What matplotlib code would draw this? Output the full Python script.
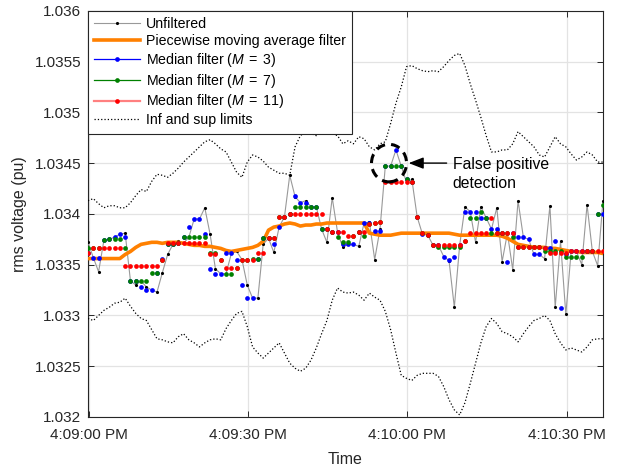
import numpy as np
import matplotlib
matplotlib.use("Agg")
import matplotlib.pyplot as plt
import matplotlib.dates as mdates
from matplotlib.lines import Line2D
from matplotlib.patches import Ellipse
from matplotlib.ticker import FuncFormatter

plt.rcParams['font.family'] = ['Liberation Sans', 'DejaVu Sans']
plt.rcParams['mathtext.fontset'] = 'custom'
plt.rcParams['mathtext.it'] = 'Liberation Sans:italic'
plt.rcParams['mathtext.rm'] = 'Liberation Sans'

# one sample per second
t_start = np.datetime64('2018-01-01T16:08:59.850')
n = 98
t = t_start + np.arange(n) * np.timedelta64(1000, 'ms')

unfiltered = [1.03372, 1.03357, 1.03343, 1.03374, 1.03375, 1.03377, 1.03380, 1.03381, 1.03334, 1.03330,
              1.03334, 1.03328, 1.03325, 1.03323, 1.03342, 1.03360, 1.03370, 1.03373, 1.03371, 1.03377,
              1.03395, 1.03395, 1.03406, 1.03380, 1.03346, 1.03341, 1.03341, 1.03361, 1.03363, 1.03355,
              1.03330, 1.03317, 1.03317, 1.03370, 1.03376, 1.03362, 1.03387, 1.03397, 1.03438, 1.03417,
              1.03411, 1.03413, 1.03407, 1.03407, 1.03385, 1.03372, 1.03416, 1.03382, 1.03367, 1.03370,
              1.03370, 1.03368, 1.03391, 1.03392, 1.03355, 1.03385, 1.03447, 1.03447, 1.03463, 1.03447,
              1.03431, 1.03434, 1.03397, 1.03380, 1.03379, 1.03369, 1.03369, 1.03358, 1.03354, 1.03308,
              1.03369, 1.03407, 1.03402, 1.03372, 1.03407, 1.03396, 1.03385, 1.03406, 1.03353, 1.03381,
              1.03345, 1.03413, 1.03377, 1.03375, 1.03360, 1.03360, 1.03356, 1.03408, 1.03308, 1.03373,
              1.03301, 1.03363, 1.03363, 1.03350, 1.03409, 1.03363, 1.03349, 1.03413]

moving_avg = [1.03356, 1.03356, 1.03356, 1.03356, 1.03356, 1.03356, 1.03356, 1.03360, 1.03363, 1.03367,
              1.03370, 1.03371, 1.03372, 1.03372, 1.03371, 1.03372, 1.03372, 1.03372, 1.03371, 1.03370,
              1.03369, 1.03369, 1.03368, 1.03368, 1.03367, 1.03366, 1.03364, 1.03363, 1.03364, 1.03365,
              1.03366, 1.03367, 1.03369, 1.03373, 1.03384, 1.03387, 1.03388, 1.03390, 1.03391, 1.03390,
              1.03388, 1.03389, 1.03389, 1.03390, 1.03390, 1.03391, 1.03391, 1.03391, 1.03391, 1.03391,
              1.03391, 1.03391, 1.03391, 1.03381, 1.03380, 1.03379, 1.03379, 1.03379, 1.03380, 1.03381,
              1.03381, 1.03381, 1.03381, 1.03381, 1.03381, 1.03381, 1.03381, 1.03381, 1.03381, 1.03380,
              1.03379, 1.03379, 1.03379, 1.03379, 1.03379, 1.03379, 1.03379, 1.03379, 1.03378, 1.03376,
              1.03373, 1.03370, 1.03369, 1.03368, 1.03367, 1.03367, 1.03367, 1.03366, 1.03366, 1.03365,
              1.03364, 1.03363, 1.03363, 1.03362, 1.03362, 1.03362, 1.03362, 1.03361]

median_3 = [1.03361, 1.03357, 1.03357, 1.03374, 1.03375, 1.03377, 1.03380, 1.03377, 1.03334, 1.03334,
            1.03328, 1.03325, 1.03325, 1.03342, 1.03356, 1.03370, 1.03370, 1.03371, 1.03377, 1.03387,
            1.03395, 1.03395, 1.03380, 1.03346, 1.03341, 1.03341, 1.03361, 1.03361, 1.03355, 1.03330,
            1.03317, 1.03317, 1.03356, 1.03376, 1.03376, 1.03370, 1.03387, 1.03397, 1.03400, 1.03418,
            1.03411, 1.03411, 1.03407, 1.03407, 1.03385, 1.03385, 1.03382, 1.03382, 1.03370, 1.03370,
            1.03370, 1.03382, 1.03391, 1.03391, 1.03383, 1.03383, 1.03447, 1.03447, 1.03463, 1.03447,
            1.03434, 1.03431, 1.03397, 1.03380, 1.03379, 1.03369, 1.03369, 1.03358, 1.03355, 1.03358,
            1.03369, 1.03402, 1.03402, 1.03402, 1.03396, 1.03396, 1.03385, 1.03385, 1.03381, 1.03353,
            1.03381, 1.03377, 1.03377, 1.03375, 1.03360, 1.03360, 1.03366, 1.03366, 1.03373, 1.03307,
            1.03360, 1.03363, 1.03363, 1.03363, 1.03363, 1.03363, 1.03400, 1.03400]

median_7 = [1.03366, 1.03366, 1.03366, 1.03374, 1.03375, 1.03375, 1.03375, 1.03366, 1.03334, 1.03334,
            1.03334, 1.03334, 1.03342, 1.03342, 1.03355, 1.03370, 1.03370, 1.03371, 1.03377, 1.03377,
            1.03377, 1.03377, 1.03377, 1.03361, 1.03361, 1.03355, 1.03341, 1.03341, 1.03347, 1.03355,
            1.03355, 1.03356, 1.03356, 1.03376, 1.03376, 1.03376, 1.03397, 1.03397, 1.03400, 1.03407,
            1.03407, 1.03407, 1.03407, 1.03407, 1.03385, 1.03385, 1.03382, 1.03377, 1.03372, 1.03372,
            1.03378, 1.03382, 1.03378, 1.03390, 1.03391, 1.03392, 1.03447, 1.03447, 1.03447, 1.03447,
            1.03434, 1.03431, 1.03397, 1.03381, 1.03379, 1.03369, 1.03367, 1.03367, 1.03367, 1.03367,
            1.03367, 1.03373, 1.03396, 1.03396, 1.03402, 1.03396, 1.03381, 1.03381, 1.03381, 1.03381,
            1.03377, 1.03367, 1.03367, 1.03367, 1.03367, 1.03367, 1.03363, 1.03363, 1.03363, 1.03363,
            1.03358, 1.03358, 1.03358, 1.03358, 1.03363, 1.03363, 1.03400, 1.03409]

median_11 = [1.03361, 1.03366, 1.03366, 1.03366, 1.03366, 1.03366, 1.03366, 1.03349, 1.03349, 1.03349,
             1.03349, 1.03349, 1.03349, 1.03349, 1.03355, 1.03371, 1.03371, 1.03371, 1.03371, 1.03371,
             1.03371, 1.03371, 1.03371, 1.03360, 1.03360, 1.03355, 1.03347, 1.03347, 1.03347, 1.03355,
             1.03355, 1.03355, 1.03361, 1.03361, 1.03376, 1.03376, 1.03397, 1.03397, 1.03400, 1.03400,
             1.03400, 1.03400, 1.03400, 1.03400, 1.03400, 1.03385, 1.03382, 1.03382, 1.03382, 1.03378,
             1.03378, 1.03382, 1.03382, 1.03390, 1.03391, 1.03392, 1.03431, 1.03431, 1.03431, 1.03431,
             1.03431, 1.03431, 1.03397, 1.03381, 1.03379, 1.03369, 1.03369, 1.03369, 1.03369, 1.03369,
             1.03369, 1.03373, 1.03381, 1.03381, 1.03381, 1.03381, 1.03396, 1.03381, 1.03381, 1.03381,
             1.03381, 1.03367, 1.03367, 1.03367, 1.03367, 1.03367, 1.03366, 1.03361, 1.03361, 1.03361,
             1.03361, 1.03363, 1.03363, 1.03363, 1.03363, 1.03363, 1.03363, 1.03363]

sup_limit = [1.03413, 1.03415, 1.03410, 1.03406, 1.03408, 1.03408, 1.03406, 1.03406, 1.03411, 1.03418,
             1.03424, 1.03422, 1.03432, 1.03439, 1.03438, 1.03436, 1.03440, 1.03445, 1.03451, 1.03456,
             1.03461, 1.03466, 1.03471, 1.03473, 1.03469, 1.03464, 1.03461, 1.03451, 1.03441, 1.03436,
             1.03451, 1.03458, 1.03456, 1.03452, 1.03446, 1.03443, 1.03440, 1.03440, 1.03438, 1.03466,
             1.03477, 1.03481, 1.03479, 1.03477, 1.03482, 1.03481, 1.03479, 1.03477, 1.03469, 1.03472,
             1.03469, 1.03476, 1.03474, 1.03466, 1.03463, 1.03469, 1.03471, 1.03489, 1.03509, 1.03525,
             1.03545, 1.03546, 1.03543, 1.03541, 1.03540, 1.03541, 1.03540, 1.03545, 1.03551, 1.03556,
             1.03558, 1.03546, 1.03528, 1.03512, 1.03495, 1.03477, 1.03461, 1.03461, 1.03463, 1.03463,
             1.03469, 1.03481, 1.03476, 1.03471, 1.03466, 1.03458, 1.03456, 1.03466, 1.03476, 1.03469,
             1.03466, 1.03459, 1.03453, 1.03456, 1.03461, 1.03458, 1.03451, 1.03451]

inf_limit = [1.03297, 1.03295, 1.03300, 1.03305, 1.03308, 1.03312, 1.03313, 1.03317, 1.03309, 1.03302,
             1.03297, 1.03295, 1.03286, 1.03277, 1.03276, 1.03274, 1.03273, 1.03279, 1.03282, 1.03276,
             1.03273, 1.03269, 1.03273, 1.03276, 1.03277, 1.03276, 1.03287, 1.03295, 1.03302, 1.03304,
             1.03289, 1.03269, 1.03263, 1.03258, 1.03263, 1.03268, 1.03273, 1.03263, 1.03253, 1.03248,
             1.03245, 1.03248, 1.03256, 1.03268, 1.03282, 1.03295, 1.03315, 1.03327, 1.03323, 1.03322,
             1.03323, 1.03320, 1.03315, 1.03322, 1.03318, 1.03315, 1.03304, 1.03286, 1.03263, 1.03241,
             1.03238, 1.03236, 1.03241, 1.03243, 1.03243, 1.03243, 1.03240, 1.03230, 1.03217, 1.03207,
             1.03202, 1.03214, 1.03233, 1.03253, 1.03273, 1.03289, 1.03297, 1.03292, 1.03284, 1.03282,
             1.03279, 1.03274, 1.03282, 1.03289, 1.03295, 1.03297, 1.03300, 1.03295, 1.03282, 1.03273,
             1.03266, 1.03268, 1.03266, 1.03264, 1.03269, 1.03276, 1.03277, 1.03277]

x_ticks = ['2018-01-01T16:09:00', '2018-01-01T16:09:30', '2018-01-01T16:10:00', '2018-01-01T16:10:30']
y_ticks = [1.032, 1.0325, 1.033, 1.0335, 1.034, 1.0345, 1.035, 1.0355, 1.036]

orange = '#ff8000'
green = '#008000'
gray = '0.6'

fig = plt.figure(figsize=(6.33, 4.68), dpi=100)
ax = fig.add_axes([0.139, 0.109, 0.8136, 0.868])

ax.plot(t, unfiltered, color=gray, lw=0.8, marker='.', ms=2.5, mfc='k', mec='k', zorder=3)
ax.plot(t, moving_avg, color=orange, lw=2.6, zorder=4, solid_joinstyle='round')
ax.plot(t, median_3, ls='none', marker='o', ms=3.4, color='#0000ff', mec='none', zorder=5)
ax.plot(t, median_7, ls='none', marker='o', ms=3.4, color=green, mec='none', zorder=6)
ax.plot(t, median_11, ls='none', marker='o', ms=3.4, color='#ff0000', mec='none', zorder=7)
ax.plot(t, sup_limit, color='k', ls=':', lw=0.9, zorder=8)
ax.plot(t, inf_limit, color='k', ls=':', lw=0.9, zorder=8)

# false positive marker
c_time = mdates.date2num(np.datetime64('2018-01-01T16:09:56.550'))
ax.add_patch(Ellipse((c_time, 1.0345), 6.6 / 86400, 0.00037, fill=False,
                     ls=(0, (3, 2)), lw=2.2, ec='k', zorder=9))
ax.annotate('', xy=(mdates.date2num(np.datetime64('2018-01-01T16:10:00.250')), 1.0345),
            xytext=(mdates.date2num(np.datetime64('2018-01-01T16:10:07.400')), 1.0345),
            arrowprops=dict(arrowstyle='-|>,head_length=0.9,head_width=0.35', color='k', lw=1.0,
                            shrinkA=0, shrinkB=0), zorder=9)
ax.text(mdates.date2num(np.datetime64('2018-01-01T16:10:08.550')), 1.03439,
        'False positive\ndetection', fontsize=11.3, va='center', ha='left', linespacing=1.3)

ax.set_xlim(t[0], t[-1])
ax.set_ylim(1.032, 1.036)
ax.set_xticks([mdates.date2num(np.datetime64(s)) for s in x_ticks])
ax.xaxis.set_major_formatter(FuncFormatter(
    lambda x, pos: mdates.num2date(x).strftime('%I:%M:%S %p').lstrip('0')))
ax.set_yticks(y_ticks)
ax.yaxis.set_major_formatter(FuncFormatter(lambda v, pos: ('%.4f' % v).rstrip('0')))

ax.grid(True, color='#e3e3e3', lw=0.9)
ax.set_axisbelow(True)
ax.tick_params(direction='in', top=True, right=True, length=4, width=0.7,
               labelsize=11, colors='#262626')
ax.tick_params(axis='x', pad=8)
ax.tick_params(axis='y', pad=5)
for s in ax.spines.values():
    s.set_color('#262626')
    s.set_linewidth(0.8)

ax.set_xlabel('Time', fontsize=11.5, color='#262626', labelpad=7)
ax.set_ylabel('rms voltage (pu)', fontsize=11.5, color='#262626', labelpad=5)

handles = [
    Line2D([], [], color=gray, lw=0.8, marker='.', ms=2.5, mfc='k', mec='k'),
    Line2D([], [], color=orange, lw=2.6),
    Line2D([], [], color='#0000ff', lw=0.9, marker='o', ms=3.4, mec='none'),
    Line2D([], [], color=green, lw=0.9, marker='o', ms=3.4, mec='none'),
    Line2D([], [], color='#ff8080', lw=1.6, marker='o', ms=3.4, mfc='#ff0000', mec='none'),
    Line2D([], [], color='k', ls=':', lw=0.9),
]
labels = ['Unfiltered', 'Piecewise moving average filter',
          r'Median filter ($\mathit{M\;=\;3)}$', r'Median filter ($\mathit{M\;=\;7)}$',
          r'Median filter ($\mathit{M\;=\;11)}$', 'Inf and sup limits']
leg = ax.legend(handles, labels, loc='upper left', fontsize=10.2, frameon=True, fancybox=False,
                borderaxespad=0, handlelength=3.2, labelspacing=0.2, handletextpad=0.45,
                borderpad=0.45, framealpha=1)
leg.get_frame().set_edgecolor('#262626')
leg.get_frame().set_linewidth(0.8)
leg.set_zorder(20)

fig.savefig('out.png', dpi=100)
